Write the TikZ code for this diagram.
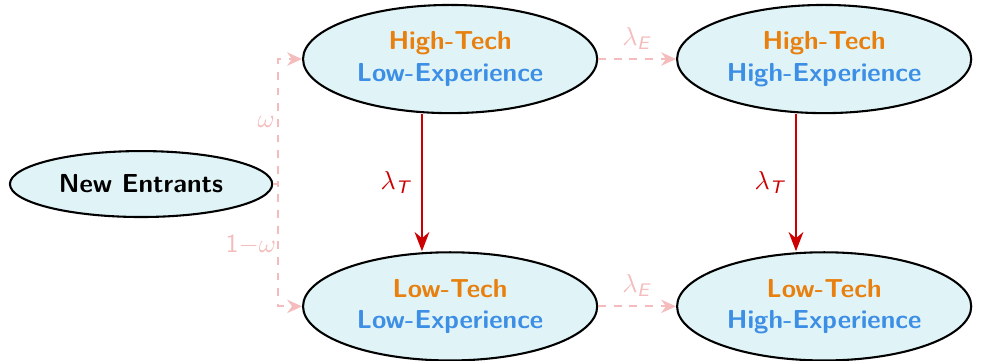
\documentclass[tikz,border=0pt]{standalone}
\usepackage{amsmath,amssymb}
\usepackage{tikz}
\usetikzlibrary{arrows.meta,positioning,shapes.geometric}
\definecolor{techorange}{HTML}{E8800F}
\definecolor{expblue}{HTML}{3D8FE6}
\definecolor{cellcyan}{HTML}{E0F4F7}
\definecolor{flowpink}{HTML}{F4BCBC}
\definecolor{flowred}{HTML}{CC0000}
\tikzset{
  cell/.style={ellipse,draw=black,thick,fill=cellcyan,align=center,minimum width=3.97cm,minimum height=1.46cm,inner sep=2pt,font=\sffamily\bfseries},
  entrant/.style={ellipse,draw=black,thick,fill=cellcyan,minimum width=3.54cm,minimum height=0.89cm,inner sep=2pt,font=\sffamily\bfseries},
  techflow/.style={-{Stealth[length=2.6mm,width=2mm]},thick,draw=flowred},
  expflow/.style={-{Stealth[length=2mm,width=1.8mm]},thick,dashed,draw=flowpink},
}

\begin{document}
\begin{tikzpicture}
    \useasboundingbox (0,0) rectangle (13.24,-4.86);
    \node[cell] (hl) at (6.075,-0.797) {\textcolor{techorange}{High-Tech}\\\textcolor{expblue}{Low-Experience}};
    \node[cell,right=1.05cm of hl] (hh) {\textcolor{techorange}{High-Tech}\\\textcolor{expblue}{High-Experience}};
    \node[cell,below=1.85cm of hl] (ll) {\textcolor{techorange}{Low-Tech}\\\textcolor{expblue}{Low-Experience}};
    \node[cell,below=1.85cm of hh] (lh) {\textcolor{techorange}{Low-Tech}\\\textcolor{expblue}{High-Experience}};
    \node[entrant] (new) at (1.904,-2.484) {New Entrants};
    \coordinate (split) at ([xshift=0.07cm]new.east);
    % entry split
    \draw[expflow] (new.east) -- (split) |- node[pos=.25,left,inner sep=1pt,text=flowpink] {$\omega$} (hl.west);
    \draw[expflow] (new.east) -- (split) |- node[pos=.25,left,inner sep=0.5pt,text=flowpink] {$\mathsf{1}{-}\omega$} (ll.west);
    % experience
    \draw[expflow] (hl) -- node[above,text=flowpink] {$\lambda_{\textsf{\textit{E}}}$} (hh);
    \draw[expflow] (ll) -- node[above,text=flowpink] {$\lambda_{\textsf{\textit{E}}}$} (lh);
    % technology
    \draw[techflow] ([xshift=-0.38cm]hl.south) -- node[left,text=flowred] {$\lambda_{\textsf{\textit{T}}}$} ([xshift=-0.38cm]ll.north);
    \draw[techflow] ([xshift=-0.38cm]hh.south) -- node[left,text=flowred] {$\lambda_{\textsf{\textit{T}}}$} ([xshift=-0.38cm]lh.north);
\end{tikzpicture}
\end{document}
